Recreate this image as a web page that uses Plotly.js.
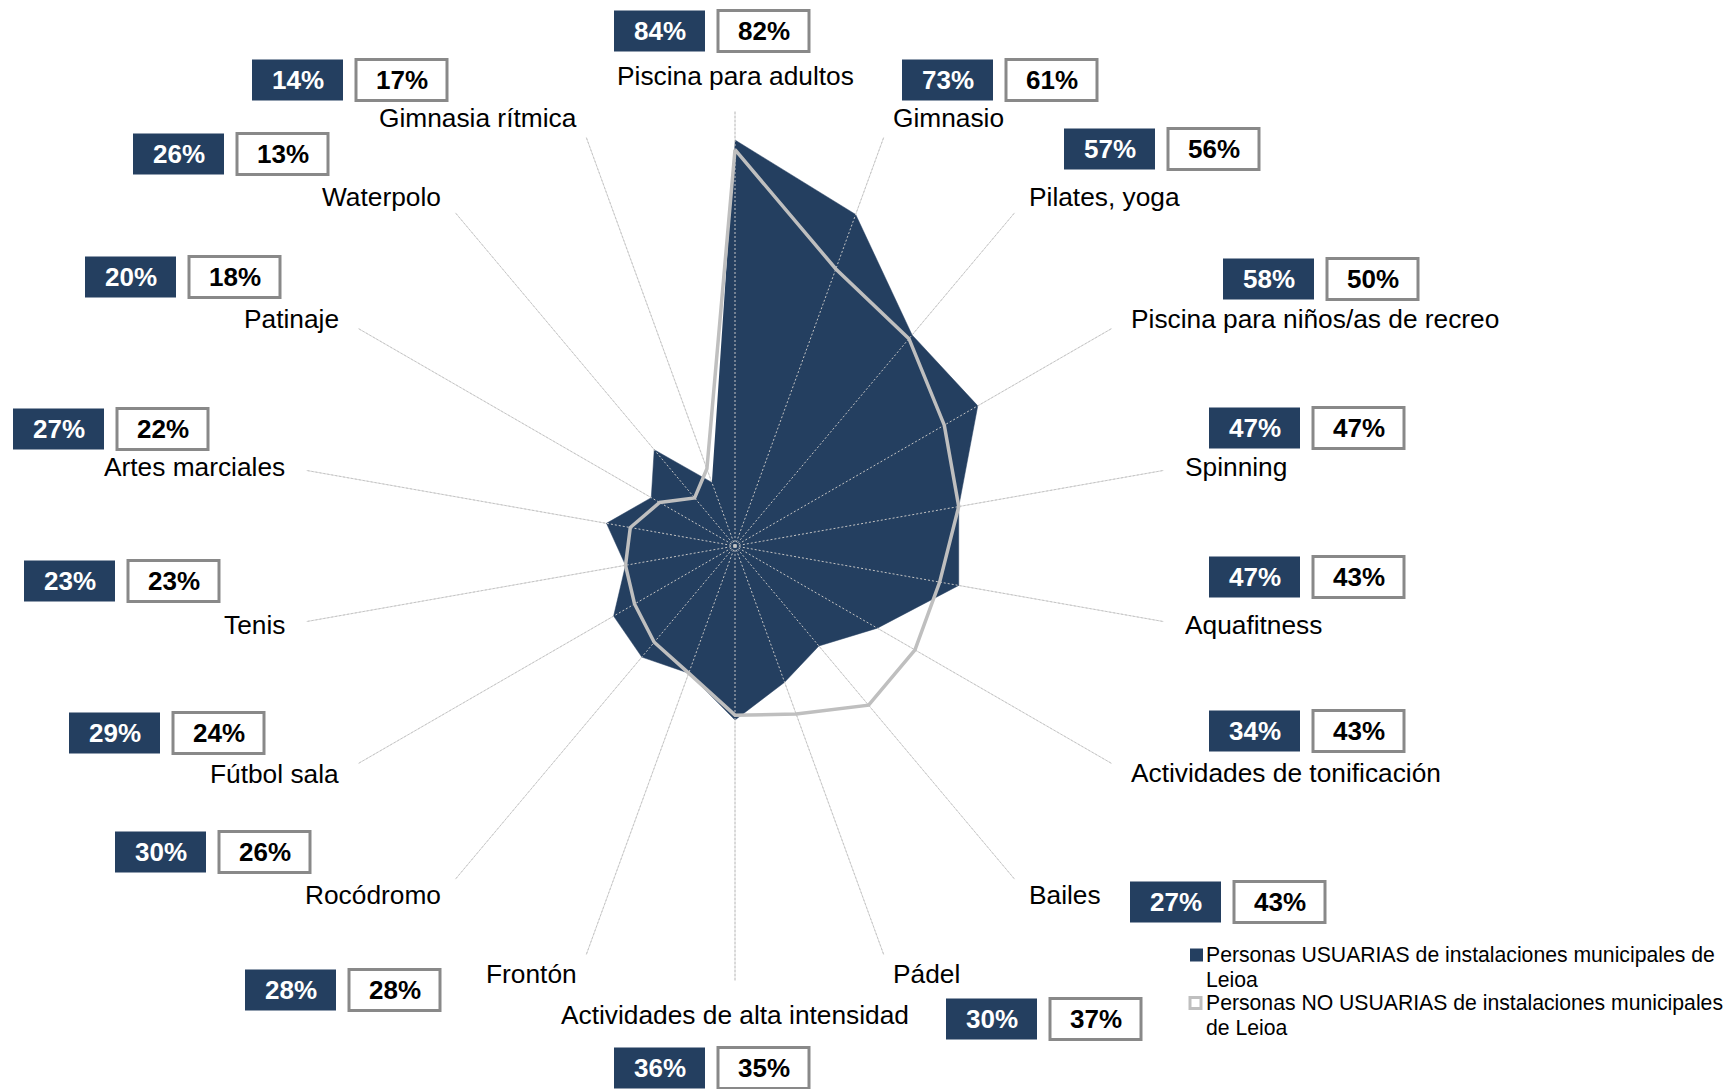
<!DOCTYPE html>
<html>
<head>
<meta charset="utf-8">
<script src="https://cdn.plot.ly/plotly-3.0.1.min.js"></script>
<style>
  html, body { margin: 0; padding: 0; background: #ffffff; }
  #chart { width: 1729px; height: 1089px; }
</style>
</head>
<body>
<div id="chart"></div>
<script>
// ---------- DATA ----------
const categories = [
  "Piscina para adultos",
  "Gimnasio",
  "Pilates, yoga",
  "Piscina para niños/as de recreo",
  "Spinning",
  "Aquafitness",
  "Actividades de tonificación",
  "Bailes",
  "Pádel",
  "Actividades de alta intensidad",
  "Frontón",
  "Rocódromo",
  "Fútbol sala",
  "Tenis",
  "Artes marciales",
  "Patinaje",
  "Waterpolo",
  "Gimnasia rítmica"
];
const usuarias   = [84, 73, 57, 58, 47, 47, 34, 27, 30, 36, 28, 30, 29, 23, 27, 20, 26, 14];
const noUsuarias = [82, 61, 56, 50, 47, 43, 43, 43, 37, 35, 28, 26, 24, 23, 22, 18, 13, 17];
const seriesNames = [
  ["Personas USUARIAS de instalaciones municipales de", "Leioa"],
  ["Personas NO USUARIAS de instalaciones municipales", "de Leioa"]
];

// ---------- LAYOUT (positions / styles, kept apart from the data) ----------
const W = 1729, H = 1089;
const CX = 735, CY = 546, RADIUS = 435;      // polar centre and radius in px
const RMAX = 90;                              // radial axis maximum (%)
const LABEL_R = 455;                          // distance of category labels
// left edge and vertical centre (px) of each pair of value boxes
const boxLeft    = [614, 902, 1064, 1223, 1209, 1209, 1209, 1130, 946, 614, 245, 115, 69, 24, 13, 85, 133, 252];
const boxCenterY = [31, 80, 149, 279, 428, 577, 731, 902, 1019, 1068, 990, 852, 733, 581, 429, 277, 154, 80];

const NAVY = "#243f60";
const GREY_LINE = "#bfbfbf";
const BOX_BORDER = "#898989";
const FONT = "Liberation Sans, Arial, sans-serif";

const px = x => x / W;
const py = y => 1 - y / H;

// spokes drawn on top of the filled area (dotted)
const spokeR = [], spokeT = [];
categories.forEach(c => { spokeR.push(0, RMAX, null); spokeT.push(c, c, c); });

const traces = [
  {
    type: "scatterpolar",
    r: usuarias,
    theta: categories,
    mode: "lines",
    fill: "toself",
    fillcolor: NAVY,
    line: { color: NAVY, width: 0.5 },
    name: seriesNames[0].join(" "),
    hoverinfo: "skip"
  },
  {
    type: "scatterpolar",
    r: spokeR,
    theta: spokeT,
    mode: "lines",
    connectgaps: false,
    line: { color: "#c4c4c4", width: 1, dash: "2px,2px" },
    hoverinfo: "skip",
    showlegend: false
  },
  {
    type: "scatterpolar",
    r: noUsuarias.concat([noUsuarias[0]]),
    theta: categories.concat([categories[0]]),
    mode: "lines",
    line: { color: GREY_LINE, width: 3.5 },
    name: seriesNames[1].join(" "),
    hoverinfo: "skip"
  }
];

const annotations = [];
const shapes = [];

// category labels
const N = categories.length;
categories.forEach((c, i) => {
  const a = i * 2 * Math.PI / N;
  const s = Math.sin(a), co = Math.cos(a);
  const x = CX + LABEL_R * s;
  let y = CY - LABEL_R * co;
  let xanchor = "center", yanchor = "middle";
  if (s > 0.01) xanchor = "left";
  else if (s < -0.01) xanchor = "right";
  else { yanchor = co > 0 ? "bottom" : "top"; y += co > 0 ? 2 : -3; }
  annotations.push({
    x: px(x), y: py(y), xref: "paper", yref: "paper",
    xanchor, yanchor, showarrow: false,
    text: c, font: { family: FONT, size: 26.3, color: "#000000" }
  });
});

// value boxes
const BW = 91, BH = 41, GAP = 104;
categories.forEach((c, i) => {
  const L = boxLeft[i], Y = boxCenterY[i];
  shapes.push({
    type: "rect", xref: "paper", yref: "paper",
    x0: px(L), x1: px(L + BW), y0: py(Y + BH / 2), y1: py(Y - BH / 2),
    fillcolor: NAVY, line: { width: 0 }
  });
  shapes.push({
    type: "rect", xref: "paper", yref: "paper",
    x0: px(L + GAP), x1: px(L + GAP + BW), y0: py(Y + BH / 2), y1: py(Y - BH / 2),
    fillcolor: "#ffffff", line: { color: BOX_BORDER, width: 3 }
  });
  annotations.push({
    x: px(L + BW / 2), y: py(Y), xref: "paper", yref: "paper",
    xanchor: "center", yanchor: "middle", showarrow: false,
    text: "<b>" + usuarias[i] + "%</b>",
    font: { family: FONT, size: 26, color: "#ffffff" }
  });
  annotations.push({
    x: px(L + GAP + BW / 2), y: py(Y), xref: "paper", yref: "paper",
    xanchor: "center", yanchor: "middle", showarrow: false,
    text: "<b>" + noUsuarias[i] + "%</b>",
    font: { family: FONT, size: 26, color: "#000000" }
  });
});

// legend (custom, to match the original's small square keys)
const LEG_X = 1204, LEG_Y0 = 955, LEG_LINE = 24;
shapes.push({
  type: "rect", xref: "paper", yref: "paper",
  x0: px(1190), x1: px(1203), y0: py(LEG_Y0 + 6.5), y1: py(LEG_Y0 - 6.5),
  fillcolor: NAVY, line: { width: 0 }
});
shapes.push({
  type: "rect", xref: "paper", yref: "paper",
  x0: px(1190), x1: px(1201), y0: py(LEG_Y0 + 2 * LEG_LINE + 5.5), y1: py(LEG_Y0 + 2 * LEG_LINE - 5.5),
  fillcolor: "#ffffff", line: { color: GREY_LINE, width: 3 }
});
let line = 0;
seriesNames.forEach(lines => {
  lines.forEach(t => {
    annotations.push({
      x: px(LEG_X), y: py(LEG_Y0 + line * LEG_LINE), xref: "paper", yref: "paper",
      xanchor: "left", yanchor: "middle", showarrow: false,
      text: t, font: { family: FONT, size: 21.2, color: "#000000" }
    });
    line++;
  });
});

const layout = {
  width: W, height: H,
  margin: { l: 0, r: 0, t: 0, b: 0, pad: 0 },
  paper_bgcolor: "#ffffff",
  showlegend: false,
  polar: {
    domain: { x: [px(CX - RADIUS), px(CX + RADIUS)], y: [py(CY + RADIUS), py(CY - RADIUS)] },
    bgcolor: "rgba(0,0,0,0)",
    radialaxis: { range: [0, RMAX], visible: false, showgrid: false, showline: false, ticks: "" },
    angularaxis: {
      type: "category",
      categoryarray: categories,
      direction: "clockwise",
      rotation: 90,
      showticklabels: false,
      ticks: "",
      showline: false,
      showgrid: true,
      gridcolor: "#dcdcdc",
      gridwidth: 1
    }
  },
  shapes,
  annotations
};

Plotly.newPlot("chart", traces, layout, { staticPlot: true, displayModeBar: false });
</script>
</body>
</html>
